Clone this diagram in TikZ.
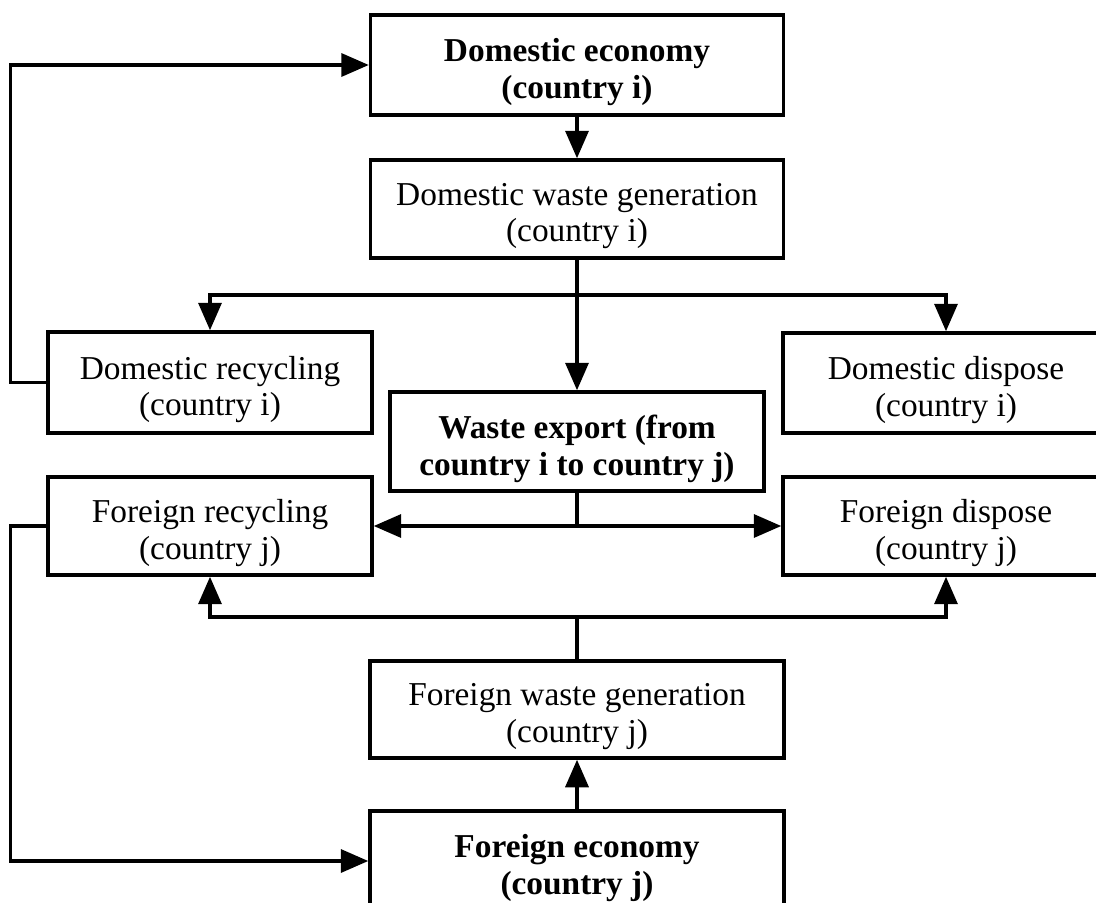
\documentclass[tikz,border=0pt]{standalone}
\usepackage{fontspec}
\setmainfont{Liberation Serif}
\usetikzlibrary{arrows.meta}
\begin{document}
\begin{tikzpicture}[x=0.02cm,y=-0.02cm,
  box/.style={draw=black, line width=2pt, inner sep=0pt},
  txt/.style={align=center, inner sep=0pt, yshift=-0.14cm, text=black,
    font=\fontsize{19}{20.8}\selectfont},
  btxt/.style={txt, font=\fontsize{19}{21.2}\selectfont\bfseries},
  conn/.style={draw=black, line width=2pt},
  arr/.style={conn, -{Triangle[length=0.55cm,width=0.46cm]}}]
\clip (0,0) rectangle (1096,903);
\fill[white] (0,0) rectangle (1096,903);

\node[box, minimum width=8.26cm, minimum height=2.0cm,
  label={[btxt]center:Domestic economy\\(country i)}] (decon) at (577,65) {};
\node[box, minimum width=8.26cm, minimum height=1.96cm,
  label={[txt]center:Domestic waste generation\\(country i)}] (dwg) at (577,209) {};
\node[box, minimum width=6.48cm, minimum height=2.02cm,
  label={[txt]center:Domestic recycling\\(country i)}] (drec) at (210,382.5) {};
\node[box, minimum width=6.52cm, minimum height=2.0cm,
  label={[txt]center:Domestic dispose\\(country i)}] (ddis) at (946,383) {};
\node[box, minimum width=7.48cm, minimum height=1.98cm,
  label={[btxt]center:Waste export (from\\country i to country j)}] (wexp) at (577,441.5) {};
\node[box, minimum width=6.48cm, minimum height=1.96cm,
  label={[txt]center:Foreign recycling\\(country j)}] (frec) at (210,526) {};
\node[box, minimum width=6.52cm, minimum height=1.96cm,
  label={[txt]center:Foreign dispose\\(country j)}] (fdis) at (946,526) {};
\node[box, minimum width=8.28cm, minimum height=1.94cm,
  label={[txt]center:Foreign waste generation\\(country j)}] (fwg) at (577,709.5) {};
\node[box, minimum width=8.28cm, minimum height=2.0cm,
  label={[btxt]center:Foreign economy\\(country j)}] (fecon) at (577,861) {};

\coordinate (b1) at (577,295);
\coordinate (b2) at (577,526);
\coordinate (b3) at (577,617);

\draw[arr] (decon.south) -- (dwg.north);
\draw[arr] (dwg.south) -- (wexp.north);
\draw[arr] (b1) -| (drec.north);
\draw[arr] (b1) -| (ddis.north);
\draw[arr] (drec.west) -- ++(-36,0) |- (decon.west);
\draw[conn] (wexp.south) -- (b2);
\draw[arr] (b2) -- (frec.east);
\draw[arr] (b2) -- (fdis.west);
\draw[conn] (fwg.north) -- (b3);
\draw[arr] (b3) -| (frec.south);
\draw[arr] (b3) -| (fdis.south);
\draw[arr] (fecon.north) -- (fwg.south);
\draw[arr] (frec.west) -- ++(-36,0) |- (fecon.west);
\end{tikzpicture}
\end{document}
